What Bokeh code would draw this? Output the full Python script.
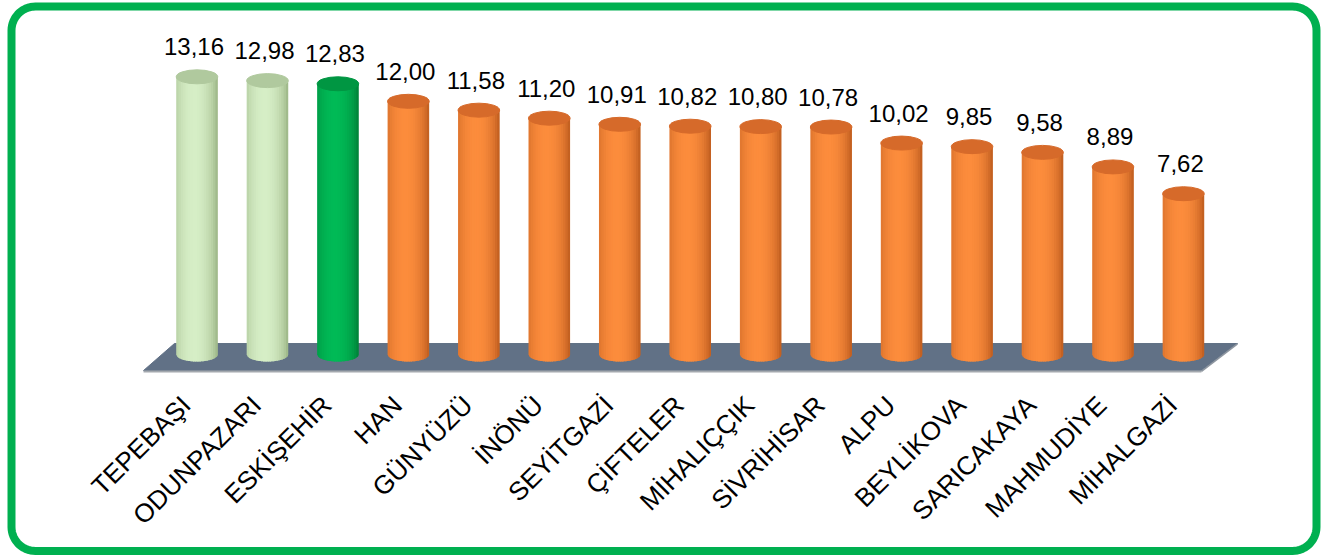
import numpy as np
from bokeh.plotting import figure
from bokeh.models import Range1d, ColumnDataSource
from bokeh.core.properties import value
from bokeh.embed import file_html
from bokeh.resources import INLINE

# ---------------- data ----------------
categories = ["TEPEBAŞI", "ODUNPAZARI", "ESKİŞEHİR", "HAN", "GÜNYÜZÜ", "İNÖNÜ",
              "SEYİTGAZİ", "ÇİFTELER", "MİHALIÇÇIK", "SİVRİHİSAR", "ALPU",
              "BEYLİKOVA", "SARICAKAYA", "MAHMUDİYE", "MİHALGAZİ"]
values = [13.16, 12.98, 12.83, 12.00, 11.58, 11.20, 10.91, 10.82, 10.80,
          10.78, 10.02, 9.85, 9.58, 8.89, 7.62]
groups = ["merkez", "merkez", "il", "ilce", "ilce", "ilce", "ilce", "ilce",
          "ilce", "ilce", "ilce", "ilce", "ilce", "ilce", "ilce"]
value_labels = [f"{v:.2f}".replace(".", ",") for v in values]

# ---------------- styles ----------------
palette = {
    "merkez": dict(edge=(150, 176, 128), hi=(214, 238, 198), top=(176, 201, 158)),
    "il": dict(edge=(0, 122, 52), hi=(0, 186, 86), top=(0, 150, 66)),
    "ilce": dict(edge=(184, 88, 28), hi=(252, 140, 60), top=(214, 106, 42)),
}
W, H = 1338, 559
X0, DX = 196.5, 70.46   # px of first bar center, px per category
Y0, DY = 354.0, 21.1    # px of zero, px per unit
HALF_W = 0.295          # half bar width in category units
ELL_H = 14              # ellipse height (px)
N_STRIPS = 18

p = figure(width=W, height=H, output_backend="svg", toolbar_location=None,
           x_range=Range1d(-X0 / DX, (W - X0) / DX),
           y_range=Range1d((Y0 - H) / DY, Y0 / DY),
           x_axis_type=None, y_axis_type=None, min_border=0)
p.grid.visible = False
p.outline_line_color = None
p.background_fill_color = "white"
p.border_fill_color = "white"
p.extra_x_ranges = {"px": Range1d(0, W)}
p.extra_y_ranges = {"px": Range1d(H, 0)}

n = len(categories)

# floor
fx = [-0.759, n - 1 + 0.256, n - 1 + 0.767, -0.32]
fy = [-0.76, -0.76, 0.52, 0.52]
p.patch(fx, fy, fill_color="#617186", line_color="#617186", line_width=1)
p.line([fx[0], fx[1]], [-0.80, -0.80], line_color="#A3A8AE", line_width=2)
p.line([fx[1], fx[2]], [-0.80, 0.50], line_color="#8E96A0", line_width=1.5)


def shade(c, t):
    e, h = np.array(c["edge"]), np.array(c["hi"])
    w = 1 - ((t + 0.15) / 1.15) ** 2
    w = max(0.0, w) ** 0.75
    col = e + (h - e) * w
    return "#%02x%02x%02x" % tuple(int(round(x)) for x in col)


b_units = (ELL_H / 2) / DY
sw = 2 * HALF_W / N_STRIPS
xs, ys, cols = [], [], []
for i, (v, g) in enumerate(zip(values, groups)):
    c = palette[g]
    for k in range(N_STRIPS):
        xl = i - HALF_W + sw * k
        xr = min(i + HALF_W, xl + sw * 1.8)   # overlap next strip to hide seams
        pts = np.linspace(xl, xr, 5)
        bot = [-b_units * np.sqrt(max(0.0, 1 - ((x - i) / HALF_W) ** 2)) for x in pts]
        xs.append([xl, xr] + list(pts[::-1]))
        ys.append([v, v] + bot[::-1])
        t = (xl + sw / 2 - i) / HALF_W
        cols.append(shade(c, t))
p.patches(xs, ys, fill_color=cols, line_color=None)

top_cols = ["#%02x%02x%02x" % palette[g]["top"] for g in groups]
src = ColumnDataSource(dict(x=list(range(n)), y=values, lab=value_labels,
                            cat=categories, top=top_cols))
p.ellipse(x="x", y="y", width=2 * HALF_W, height=ELL_H, height_units="screen",
          fill_color="top", line_color="top", source=src)

# value labels
p.text(x="x", y="y", text="lab", source=src, text_align="center",
       text_baseline="middle", y_offset=-30, x_offset=-3,
       text_font=value("Liberation Sans"), text_font_size="24px", text_color="#000000")

# category labels
p.text(x="x", y=0, text="cat", source=src, text_align="right",
       text_baseline="middle", angle=np.deg2rad(45), x_offset=-11, y_offset=46,
       text_font=value("Liberation Sans"), text_font_size="26px", text_color="#000000")

# rounded green frame
x1, y1, x2, y2, r = 11, 6, 1316, 550.5, 24
bx, by = [], []
for cx, cy, a0 in [(x2 - r, y1 + r, -90), (x2 - r, y2 - r, 0), (x1 + r, y2 - r, 90), (x1 + r, y1 + r, 180)]:
    a = np.deg2rad(np.linspace(a0, a0 + 90, 16))
    bx += list(cx + r * np.cos(a))
    by += list(cy + r * np.sin(a))
p.patch(bx, by, fill_color=None, line_color="#00B050", line_width=8,
        x_range_name="px", y_range_name="px")

open("out.html", "w").write(file_html(p, INLINE))
